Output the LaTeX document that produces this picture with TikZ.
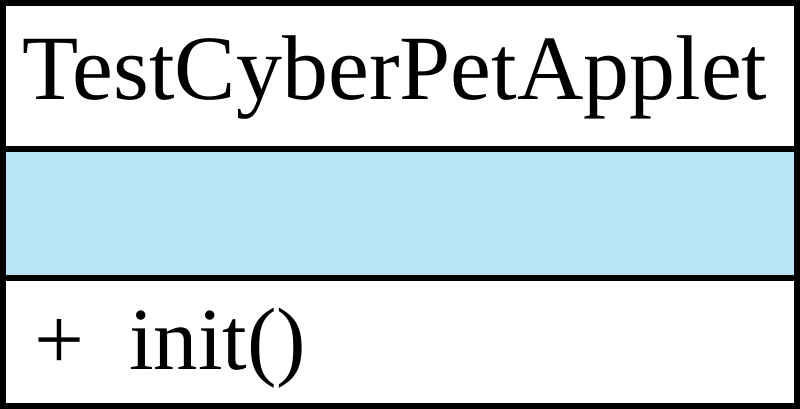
\documentclass[tikz,border=0pt]{standalone}
\usepackage{fontspec}
\usepackage{tikz}
\setmainfont{Liberation Serif}
\definecolor{attrblue}{HTML}{B9E4F7}

\begin{document}
\begin{tikzpicture}[line width=4.2pt,font=\fontsize{63}{70}\selectfont]
\useasboundingbox (0,0) rectangle (20,10.225);
\fill[attrblue] (0.07,3.275) rectangle (19.93,6.5);
\draw (0.07,0.07) rectangle (19.93,10.155);
\draw (0.07,6.5)--(19.93,6.5);
\draw (0.07,3.275)--(19.93,3.275);
\node[anchor=base west,inner sep=0pt,font=\fontsize{65.4}{72}\selectfont] (title) at (0.5,7.725) {TestCyberPetApplet};
\node[anchor=base west,inner sep=0pt] (ops) at (0.8,0.975) {+\ \ init()};
\end{tikzpicture}
\end{document}
